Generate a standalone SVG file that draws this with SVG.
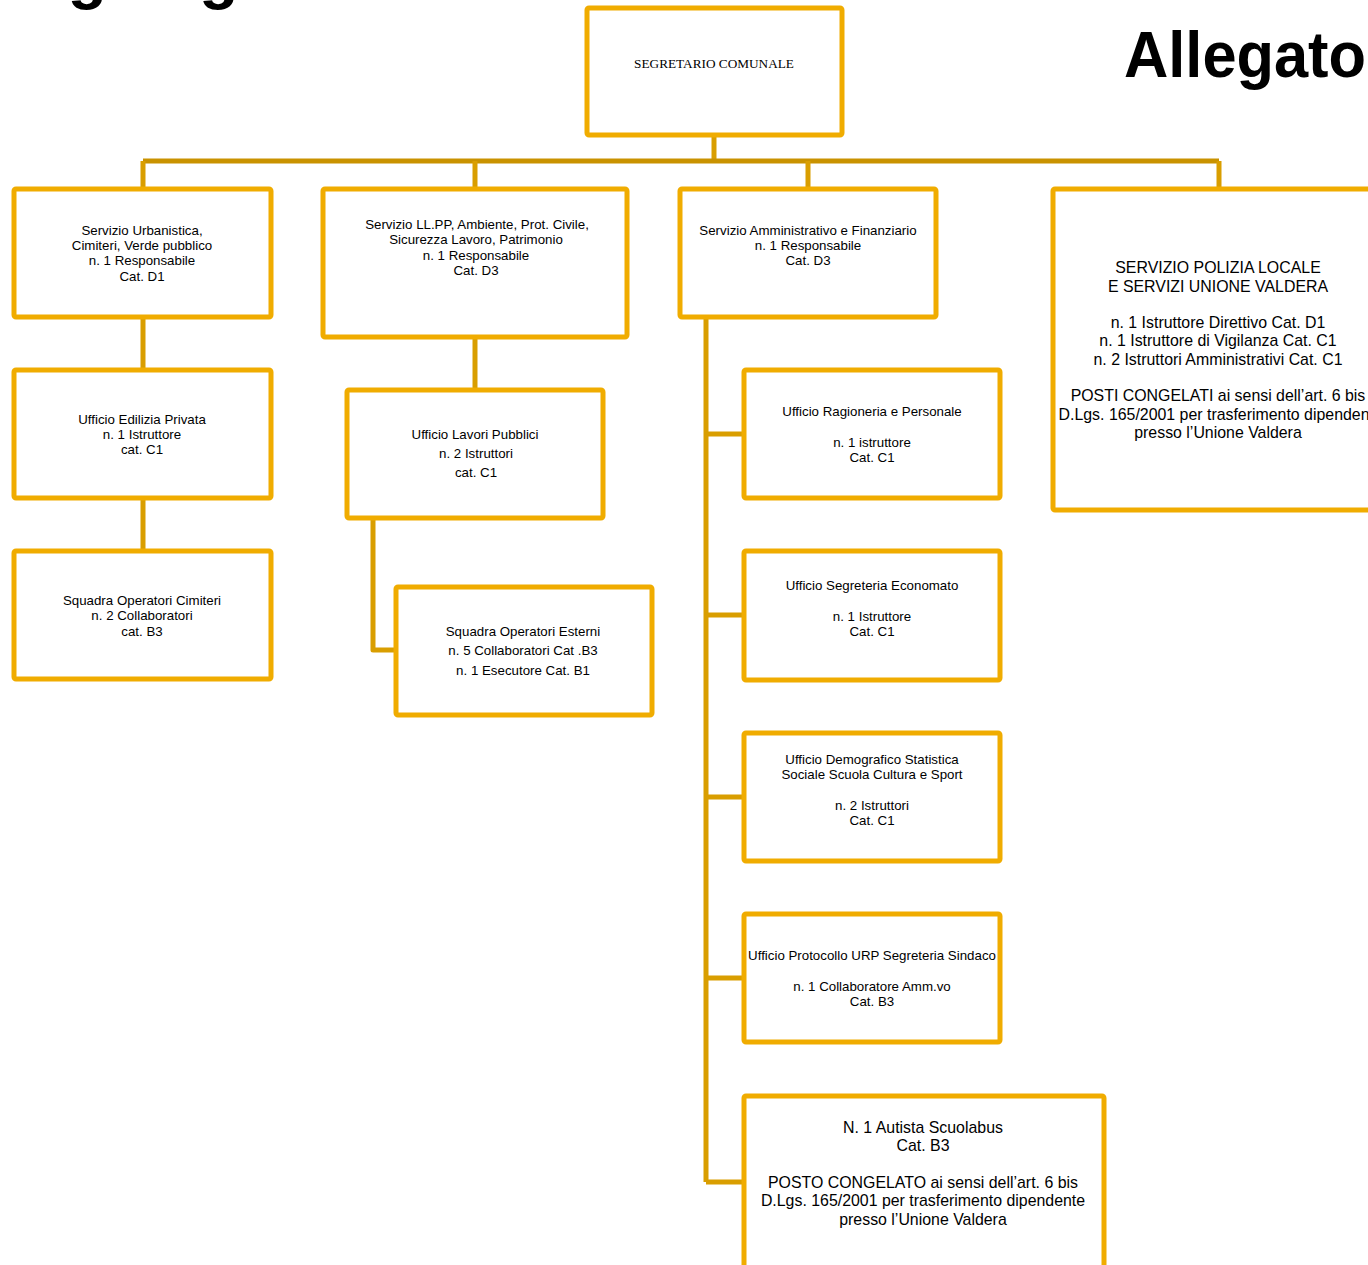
<svg xmlns="http://www.w3.org/2000/svg" width="1368" height="1265" viewBox="0 0 1368 1265">
<style>
.box{fill:#fff;stroke:#F0AC00;stroke-width:5}
.con{fill:none;stroke:#D99E00;stroke-width:5;stroke-linejoin:round}
.bus{fill:none;stroke:#C99200;stroke-width:5}
.t{font-family:"Liberation Sans",Arial,sans-serif;font-size:13.3px;fill:#000;text-anchor:middle}
.tl{font-family:"Liberation Sans",Arial,sans-serif;font-size:15.9px;fill:#000;text-anchor:middle}
.ts{font-family:"Liberation Serif","Times New Roman",serif;font-size:13.25px;fill:#000;text-anchor:middle}
.h{font-family:"Liberation Sans",Arial,sans-serif;font-size:64px;font-weight:bold;fill:#000}
</style>
<rect width="1368" height="1265" fill="#fff"/>
<text class="h" x="-7" y="-3">Organigramma</text>
<text class="h" x="1124" y="77" textLength="242" lengthAdjust="spacingAndGlyphs">Allegato</text>
<g id="connectors">
<path class="con" d="M714 135V161"/>
<path class="bus" d="M143 161H1219"/>
<path class="con" d="M143 161V189M475 161V189M808 161V189M1219 161V189"/>
<path class="con" d="M143 317V370M143 498V551"/>
<path class="con" d="M475 337V390"/>
<path class="con" d="M373 518V650H396"/>
<path class="con" d="M706 317V1182M706 434H744M706 615H744M706 797H744M706 978H744M706 1182H744"/>
</g>
<g id="segretario">
<rect class="box" x="587" y="8" width="255" height="127" rx="2"/>
<text class="ts" x="714" y="68">SEGRETARIO COMUNALE</text>
</g>
<g id="urbanistica">
<rect class="box" x="14" y="189" width="257" height="128" rx="2"/>
<text class="t" x="142" y="235">Servizio Urbanistica,</text>
<text class="t" x="142" y="250">Cimiteri, Verde pubblico</text>
<text class="t" x="142" y="265">n. 1 Responsabile</text>
<text class="t" x="142" y="281">Cat. D1</text>
</g>
<g id="edilizia">
<rect class="box" x="14" y="370" width="257" height="128" rx="2"/>
<text class="t" x="142" y="424">Ufficio Edilizia Privata</text>
<text class="t" x="142" y="439">n. 1 Istruttore</text>
<text class="t" x="142" y="454">cat. C1</text>
</g>
<g id="cimiteri">
<rect class="box" x="14" y="551" width="257" height="128" rx="2"/>
<text class="t" x="142" y="605">Squadra Operatori Cimiteri</text>
<text class="t" x="142" y="620">n. 2 Collaboratori</text>
<text class="t" x="142" y="636">cat. B3</text>
</g>
<g id="llpp">
<rect class="box" x="323" y="189" width="304" height="148" rx="2"/>
<text class="t" x="477" y="229">Servizio LL.PP, Ambiente, Prot. Civile,</text>
<text class="t" x="476" y="244">Sicurezza Lavoro, Patrimonio</text>
<text class="t" x="476" y="260">n. 1 Responsabile</text>
<text class="t" x="476" y="275">Cat. D3</text>
</g>
<g id="lavori">
<rect class="box" x="347" y="390" width="256" height="128" rx="2"/>
<text class="t" x="475" y="439">Ufficio Lavori Pubblici</text>
<text class="t" x="476" y="458">n. 2  Istruttori</text>
<text class="t" x="476" y="477">cat. C1</text>
</g>
<g id="esterni">
<rect class="box" x="396" y="587" width="256" height="128" rx="2"/>
<text class="t" x="523" y="636">Squadra Operatori Esterni</text>
<text class="t" x="523" y="655">n. 5 Collaboratori Cat .B3</text>
<text class="t" x="523" y="675">n. 1 Esecutore Cat. B1</text>
</g>
<g id="amministrativo">
<rect class="box" x="680" y="189" width="256" height="128" rx="2"/>
<text class="t" x="808" y="235">Servizio  Amministrativo e Finanziario</text>
<text class="t" x="808" y="250">n. 1 Responsabile</text>
<text class="t" x="808" y="265">Cat. D3</text>
</g>
<g id="ragioneria">
<rect class="box" x="744" y="370" width="256" height="128" rx="2"/>
<text class="t" x="872" y="416">Ufficio  Ragioneria e Personale</text>
<text class="t" x="872" y="447">n. 1 istruttore</text>
<text class="t" x="872" y="462">Cat. C1</text>
</g>
<g id="segreteria">
<rect class="box" x="744" y="551" width="256" height="129" rx="2"/>
<text class="t" x="872" y="590">Ufficio Segreteria Economato</text>
<text class="t" x="872" y="621">n. 1 Istruttore</text>
<text class="t" x="872" y="636">Cat. C1</text>
</g>
<g id="demografico">
<rect class="box" x="744" y="733" width="256" height="128" rx="2"/>
<text class="t" x="872" y="764">Ufficio Demografico Statistica</text>
<text class="t" x="872" y="779">Sociale Scuola Cultura e Sport</text>
<text class="t" x="872" y="810">n. 2 Istruttori</text>
<text class="t" x="872" y="825">Cat. C1</text>
</g>
<g id="protocollo">
<rect class="box" x="744" y="914" width="256" height="128" rx="2"/>
<text class="t" x="872" y="960">Ufficio Protocollo URP Segreteria Sindaco</text>
<text class="t" x="872" y="991">n. 1 Collaboratore Amm.vo</text>
<text class="t" x="872" y="1006">Cat. B3</text>
</g>
<g id="autista">
<rect class="box" x="744" y="1096" width="360" height="200" rx="2"/>
<text class="tl" x="923" y="1133">N.  1 Autista Scuolabus</text>
<text class="tl" x="923" y="1151">Cat. B3</text>
<text class="tl" x="923" y="1188">POSTO CONGELATO ai sensi dell’art. 6 bis</text>
<text class="tl" x="923" y="1206">D.Lgs. 165/2001 per trasferimento dipendente</text>
<text class="tl" x="923" y="1225">presso l’Unione Valdera</text>
</g>
<g id="polizia">
<rect class="box" x="1053" y="189" width="340" height="321" rx="2"/>
<text class="tl" x="1218" y="273">SERVIZIO POLIZIA LOCALE</text>
<text class="tl" x="1218" y="292">E SERVIZI UNIONE VALDERA</text>
<text class="tl" x="1218" y="328">n. 1 Istruttore Direttivo Cat. D1</text>
<text class="tl" x="1218" y="346">n. 1 Istruttore di Vigilanza Cat. C1</text>
<text class="tl" x="1218" y="365">n. 2 Istruttori Amministrativi Cat. C1</text>
<text class="tl" x="1218" y="401">POSTI CONGELATI  ai sensi dell’art. 6 bis</text>
<text class="tl" x="1218" y="420">D.Lgs. 165/2001 per trasferimento dipendenti</text>
<text class="tl" x="1218" y="438">presso l’Unione Valdera</text>
</g>
</svg>
